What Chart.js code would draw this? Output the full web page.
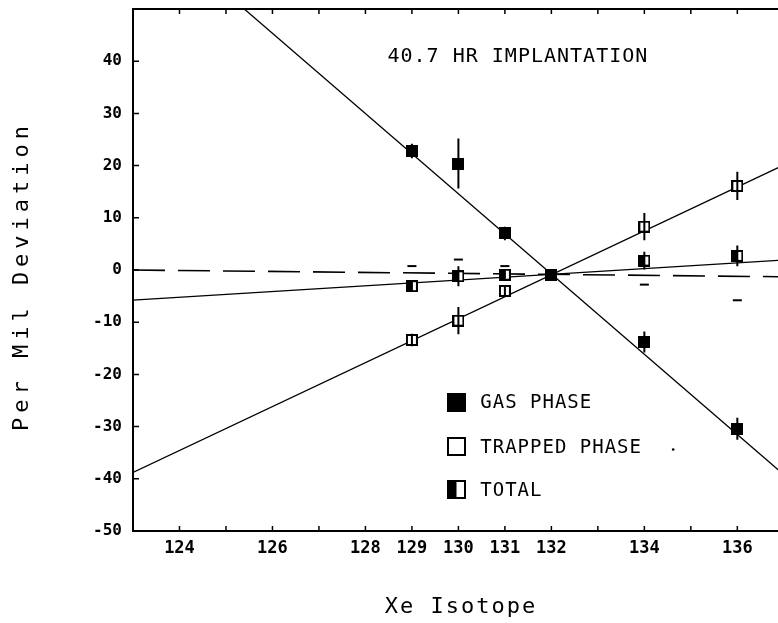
<!DOCTYPE html>
<html>
<head>
<meta charset="utf-8">
<script src="https://cdn.jsdelivr.net/npm/chart.js@4.4.0/dist/chart.umd.min.js"></script>
<style>
  body { margin: 0; background: #fff; }
  canvas { display: block; }
</style>
</head>
<body>
<canvas id="chart" width="778" height="623"></canvas>
<script>
// measured isotopes
const isotopes = [129, 130, 131, 132, 134, 136];

const gasPhase = [22.8, 20.4, 7.0, -1.0, -13.8, -30.4];
const gasErr = [1.4, 4.8, 1.3, 0, 2.0, 2.1];

const trappedPhase = [-13.4, -9.7, -4.0, -1.0, 8.3, 16.1];
const trappedErr = [1.2, 2.6, 1.0, 0, 2.6, 2.7];

const totalPhase = [-3.1, -1.2, -0.9, -1.0, 1.8, 2.7];
const totalErr = [1.0, 1.9, 0.8, 0, 1.7, 2.0];

// the short dash marks
const dashIsotopes = [129, 130, 131, 134, 136];
const dashValues = [0.75, 2.0, 0.75, -2.8, -5.8];

// fitted lines (end points beyond the plot edges, clipped)
const fitX = [123, 137];
const gasFit = [68.4, -39.2];
const trappedFit = [-38.8, 20.1];
const totalFit = [-5.76, 1.91];
const dashedFit = [0, -1.3];

const xLabels = [124, 126, 128, 129, 130, 131, 132, 134, 136];
const yLabels = [-50, -40, -30, -20, -10, 0, 10, 20, 30, 40];
const legendLabels = ['GAS PHASE', 'TRAPPED PHASE', 'TOTAL'];

const FONT = '"DejaVu Sans Mono", "Liberation Mono", monospace';

function makeMarker(kind, s) {
  const c = document.createElement('canvas');
  c.width = s; c.height = s;
  const g = c.getContext('2d');
  if (kind == 'gas') {
    g.fillStyle = '#000';
    g.fillRect(0, 0, s, s);
  } else {
    g.fillStyle = '#fff';
    g.fillRect(0, 0, s, s);
    if (kind == 'total') {
      g.fillStyle = '#000';
      g.fillRect(0, 0, s / 2, s);
    }
    g.strokeStyle = '#000';
    g.lineWidth = 2;
    g.strokeRect(1, 1, s - 2, s - 2);
  }
  return c;
}

const pts = (xs, ys) => xs.map((v, i) => ({ x: v, y: ys[i] }));

function drawErrors(ctx, x, y, vals, errs) {
  vals.forEach((v, i) => {
    if (!errs[i]) return;
    const px = x.getPixelForValue(isotopes[i]);
    ctx.moveTo(px, y.getPixelForValue(v + errs[i]));
    ctx.lineTo(px, y.getPixelForValue(v - errs[i]));
  });
}

function spacedText(ctx, text, px, py, size, spacing) {
  ctx.font = size + 'px ' + FONT;
  ctx.letterSpacing = spacing + 'px';
  ctx.fillText(text, px, py);
  ctx.letterSpacing = '0px';
}

const framePlugin = {
  id: 'frame',
  beforeDatasetsDraw(chart) {
    const { ctx, chartArea: a, scales: { x, y } } = chart;
    ctx.save();
    ctx.strokeStyle = '#000';
    ctx.lineWidth = 2;
    ctx.beginPath();
    ctx.moveTo(a.right, a.top);
    ctx.lineTo(a.left, a.top);
    ctx.lineTo(a.left, a.bottom);
    ctx.lineTo(a.right, a.bottom);
    ctx.stroke();

    // inward ticks
    ctx.lineWidth = 1.5;
    ctx.beginPath();
    for (let v = 124; v <= 136; v++) {
      const px = x.getPixelForValue(v);
      ctx.moveTo(px, a.bottom);
      ctx.lineTo(px, a.bottom - 5);
      ctx.moveTo(px, a.top);
      ctx.lineTo(px, a.top + 5);
    }
    yLabels.forEach(v => {
      if (v <= y.min) return;
      const py = y.getPixelForValue(v);
      ctx.moveTo(a.left, py);
      ctx.lineTo(a.left + 6, py);
    });
    ctx.stroke();
    ctx.restore();
  },
  afterDatasetsDraw(chart) {
    const { ctx, scales: { x, y } } = chart;
    ctx.save();
    ctx.strokeStyle = '#000';
    ctx.lineWidth = 2;
    ctx.beginPath();
    drawErrors(ctx, x, y, gasPhase, gasErr);
    drawErrors(ctx, x, y, trappedPhase, trappedErr);
    drawErrors(ctx, x, y, totalPhase, totalErr);
    ctx.stroke();
    ctx.restore();
  },
  afterDraw(chart) {
    const { ctx, scales: { x, y } } = chart;
    ctx.save();
    ctx.fillStyle = '#000';
    ctx.textBaseline = 'middle';

    // title inside the plot
    ctx.textAlign = 'center';
    spacedText(ctx, '40.7 HR IMPLANTATION', x.getPixelForValue(131.28), y.getPixelForValue(40.9), 20, 1);

    // legend
    const rows = [-25.3, -33.9, -42.1];
    const kinds = ['gas', 'trapped', 'total'];
    const lx = x.getPixelForValue(129.95);
    rows.forEach((r, i) => {
      const py = y.getPixelForValue(r);
      ctx.drawImage(makeMarker(kinds[i], 19), Math.round(lx - 9.5), Math.round(py - 9.5));
      ctx.textAlign = 'left';
      spacedText(ctx, legendLabels[i], x.getPixelForValue(130.47), py + 1, 19, 1);
    });

    // axis titles
    ctx.textAlign = 'center';
    spacedText(ctx, 'Xe Isotope', 461, 607, 22, 2);
    ctx.translate(22, 276);
    ctx.rotate(-Math.PI / 2);
    spacedText(ctx, 'Per Mil Deviation', 0, 0, 22, 5);
    ctx.restore();
  }
};

new Chart(document.getElementById('chart'), {
  type: 'scatter',
  data: {
    datasets: [
      {
        label: 'Gas phase',
        data: pts(isotopes, gasPhase),
        pointStyle: makeMarker('gas', 12),
        order: 0
      },
      {
        label: 'Total',
        data: pts(isotopes, totalPhase),
        pointStyle: makeMarker('total', 12),
        order: 1
      },
      {
        label: 'Trapped phase',
        data: pts(isotopes, trappedPhase),
        pointStyle: makeMarker('trapped', 12),
        order: 2
      },
      {
        label: 'marks',
        data: pts(dashIsotopes, dashValues),
        pointStyle: 'line',
        pointRadius: 4.5,
        pointBorderWidth: 2,
        borderColor: '#000',
        order: 3
      },
      {
        label: 'dot',
        data: [{ x: 134.62, y: -34.4 }],
        pointStyle: 'circle',
        pointRadius: 1.3,
        backgroundColor: '#000',
        borderWidth: 0,
        order: 3
      },
      {
        label: 'gas fit',
        data: pts(fitX, gasFit),
        showLine: true, pointRadius: 0, borderColor: '#000', borderWidth: 1.3,
        order: 5
      },
      {
        label: 'trapped fit',
        data: pts(fitX, trappedFit),
        showLine: true, pointRadius: 0, borderColor: '#000', borderWidth: 1.3,
        order: 5
      },
      {
        label: 'total fit',
        data: pts(fitX, totalFit),
        showLine: true, pointRadius: 0, borderColor: '#000', borderWidth: 1.3,
        order: 5
      },
      {
        label: 'reference',
        data: pts(fitX, dashedFit),
        showLine: true, pointRadius: 0, borderColor: '#000', borderWidth: 1.6,
        borderDash: [32, 13],
        order: 5
      }
    ]
  },
  options: {
    responsive: false,
    animation: false,
    events: [],
    layout: {
      autoPadding: false,
      padding: { top: 9, right: 0, bottom: 0, left: 0 }
    },
    plugins: { legend: { display: false }, tooltip: { enabled: false } },
    scales: {
      x: {
        type: 'linear',
        min: 123,
        max: 136.875,
        grid: { display: false, drawTicks: false },
        border: { display: false },
        afterBuildTicks: s => { s.ticks = xLabels.map(v => ({ value: v })); },
        afterFit: s => {
          s.height = 92;
          s.paddingLeft = 0;
          s.paddingRight = 0;
        },
        ticks: {
          color: '#000',
          padding: 7,
          maxRotation: 0,
          autoSkip: false,
          font: { family: FONT, size: 17, weight: 'bold' }
        }
      },
      y: {
        min: -50,
        max: 50,
        grid: { display: false, drawTicks: false },
        border: { display: false },
        afterBuildTicks: s => { s.ticks = yLabels.map(v => ({ value: v })); },
        afterFit: s => {
          s.width = 133;
          s.paddingTop = 0;
          s.paddingBottom = 0;
        },
        ticks: {
          color: '#000',
          padding: 11,
          autoSkip: false,
          font: { family: FONT, size: 16, weight: 'bold' }
        }
      }
    }
  },
  plugins: [framePlugin]
});
</script>
</body>
</html>
